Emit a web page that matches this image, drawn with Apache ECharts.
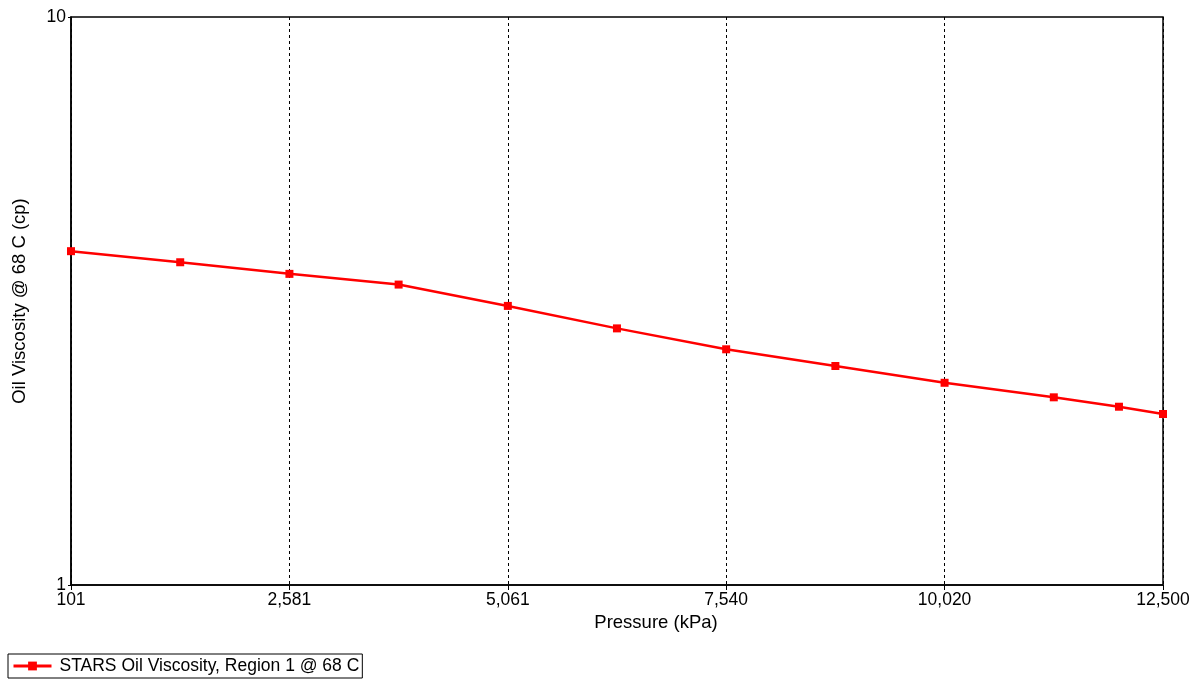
<!DOCTYPE html>
<html>
<head>
<meta charset="utf-8">
<script src="https://cdn.jsdelivr.net/npm/echarts@6/dist/echarts.min.js"></script>
<style>
html,body{margin:0;padding:0;background:#fff;}
#chart{width:1199px;height:682px;}
</style>
</head>
<body>
<div id="chart"></div>
<script>
const pressure = [101, 1341, 2581, 3821, 5061, 6300, 7540, 8780, 10020, 11260, 12000, 12500];
const viscosity = [3.87, 3.70, 3.53, 3.38, 3.10, 2.83, 2.60, 2.43, 2.27, 2.14, 2.06, 2.00];
const xTicks = [101, 2581, 5061, 7540, 10020, 12500];
const seriesName = 'STARS Oil Viscosity, Region 1 @ 68 C';
const xTitle = 'Pressure (kPa)';
const yTitle = 'Oil Viscosity @ 68 C (cp)';

const FONT = '"Liberation Sans", Arial, sans-serif';
const chart = echarts.init(document.getElementById('chart'));
chart.setOption({
  backgroundColor: '#fff',
  animation: false,
  textStyle: { fontFamily: FONT },
  grid: { left: 71, right: 36, top: 17, bottom: 97, show: true, borderColor: '#000', borderWidth: 1.5,
    containLabel: false, outerBoundsMode: 'none' },
  xAxis: {
    type: 'value', min: 101, max: 12500,
    name: xTitle, nameLocation: 'middle', nameGap: 27,
    nameTextStyle: { color: '#000', fontSize: 18.5, fontFamily: FONT, padding: [0, 0, 0, 78] },
    axisLine: { show: true, onZero: false, lineStyle: { color: '#000', width: 1.5 } },
    axisTick: { show: true, inside: false, length: 5, customValues: xTicks, lineStyle: { color: '#000' } },
    axisLabel: { customValues: xTicks, color: '#000', fontSize: 17.5, fontFamily: FONT, margin: 6,
      formatter: v => Math.round(v).toLocaleString('en-US') },
    splitLine: { show: true, lineStyle: { color: '#000', type: [3, 3], width: 1 } }
  },
  yAxis: {
    type: 'log', logBase: 10, min: 1, max: 10,
    name: yTitle, nameLocation: 'middle', nameGap: 42,
    nameTextStyle: { color: '#000', fontSize: 18.5, fontFamily: FONT },
    axisLine: { show: true, lineStyle: { color: '#000', width: 1.5 } },
    axisTick: { show: true, length: 3, lineStyle: { color: '#000' } },
    axisLabel: { color: '#000', fontSize: 17.5, fontFamily: FONT, margin: 5 },
    splitLine: { show: false },
    minorTick: { show: false }
  },
  legend: {
    show: true, left: 8, top: 654, orient: 'horizontal',
    borderColor: '#000', borderWidth: 1, padding: [3, 3, 3, 4],
    itemWidth: 38, itemHeight: 11, itemGap: 8,
    textStyle: { color: '#000', fontSize: 17.5, fontFamily: FONT, padding: [0, 0, 0, 3] },
    data: [{ name: seriesName, lineStyle: { width: 3, color: '#ff0000' }, itemStyle: { color: '#ff0000' } }]
  },
  series: [{
    name: seriesName, type: 'line',
    data: pressure.map((p, i) => [p, viscosity[i]]),
    symbol: 'rect', symbolSize: 8, showSymbol: true,
    lineStyle: { color: '#ff0000', width: 2.5 },
    itemStyle: { color: '#ff0000' },
    clip: false
  }]
});
</script>
</body>
</html>
